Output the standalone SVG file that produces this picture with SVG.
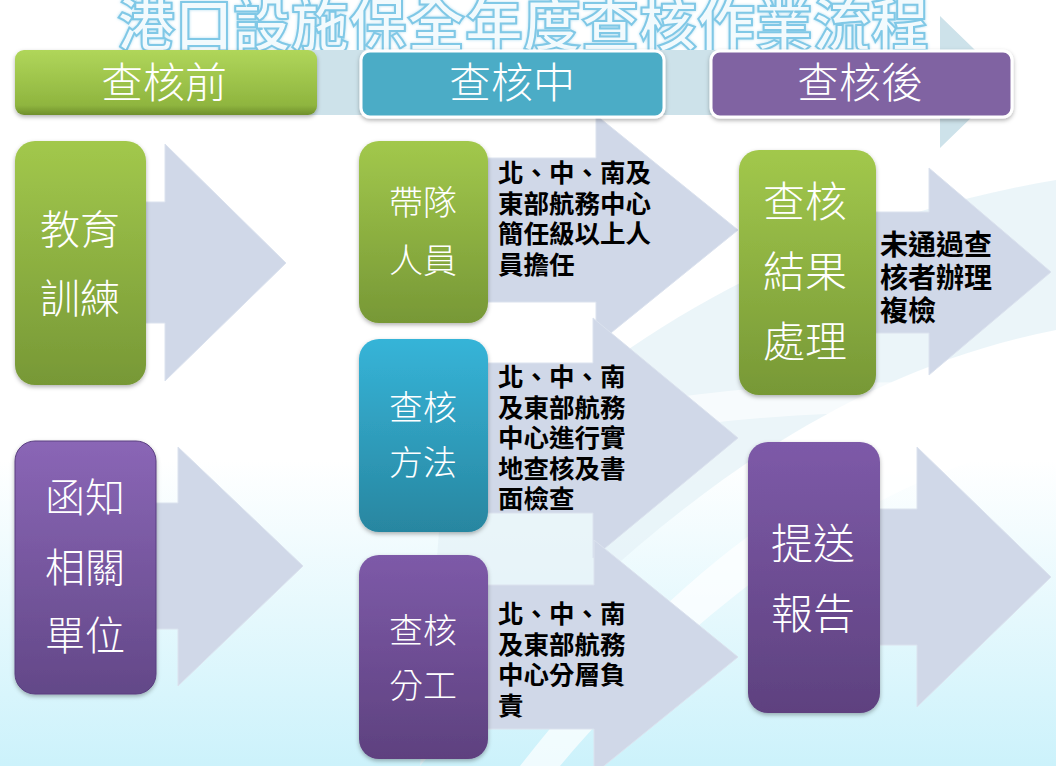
<svg xmlns="http://www.w3.org/2000/svg" width="1056" height="766" viewBox="0 0 1056 766">
  <defs>
    <linearGradient id="bg" x1="0" y1="0" x2="0" y2="1">
      <stop offset="0" stop-color="#ffffff"/>
      <stop offset="0.6" stop-color="#ffffff"/>
      <stop offset="1" stop-color="#ccf2fb"/>
    </linearGradient>
    <linearGradient id="gGreen" x1="0" y1="0" x2="0" y2="1">
      <stop offset="0" stop-color="#a2c84c"/>
      <stop offset="1" stop-color="#779836"/>
    </linearGradient>
    <linearGradient id="gGreenHdr" x1="0" y1="0" x2="0" y2="1">
      <stop offset="0" stop-color="#b0d65a"/>
      <stop offset="0.85" stop-color="#8fb53f"/>
      <stop offset="1" stop-color="#6f8f2c"/>
    </linearGradient>
    <linearGradient id="gTeal" x1="0" y1="0" x2="0" y2="1">
      <stop offset="0" stop-color="#36b4d8"/>
      <stop offset="1" stop-color="#2886a0"/>
    </linearGradient>
    <linearGradient id="gPurple" x1="0" y1="0" x2="0" y2="1">
      <stop offset="0" stop-color="#7d5aa8"/>
      <stop offset="1" stop-color="#5e417f"/>
    </linearGradient>
    <linearGradient id="gPurple2" x1="0" y1="0" x2="0" y2="1">
      <stop offset="0" stop-color="#8a66b6"/>
      <stop offset="1" stop-color="#634888"/>
    </linearGradient>
    <filter id="sh" x="-20%" y="-20%" width="140%" height="140%">
      <feDropShadow dx="0" dy="2" stdDeviation="2" flood-color="#000" flood-opacity="0.3"/>
    </filter>
    <filter id="glow" x="-10%" y="-30%" width="120%" height="160%">
      <feGaussianBlur in="SourceAlpha" stdDeviation="1.5" result="b"/>
      <feFlood flood-color="#9fd6ee" flood-opacity="0.8"/>
      <feComposite in2="b" operator="in" result="g"/>
      <feMerge><feMergeNode in="g"/><feMergeNode in="SourceGraphic"/></feMerge>
    </filter>
  </defs>
  <style>
    .arrow { fill: #d0d8e8; stroke: #dbe2ee; stroke-width: 1; }
    .harrow { fill: #cde2ea; }
    .lbl { font-family: "Noto Sans CJK TC", "Noto Sans CJK SC", sans-serif; font-weight: 300; fill: #ffffff; text-anchor: middle; }
    .hdr { font-family: "Noto Sans CJK TC", "Noto Sans CJK SC", sans-serif; font-weight: 300; fill: #ffffff; text-anchor: middle; font-size: 42px; }
    .desc { font-family: "Noto Sans CJK TC", "Noto Sans CJK SC", sans-serif; font-weight: bold; fill: #000000; font-size: 25.5px; }
    .desc2 { font-family: "Noto Sans CJK TC", "Noto Sans CJK SC", sans-serif; font-weight: bold; fill: #000000; font-size: 28px; }
    .title { font-family: "Noto Sans CJK TC", "Noto Sans CJK SC", sans-serif; font-weight: bold; font-size: 58px; fill: #f2fafd; stroke: #80c8e6; stroke-width: 2; text-anchor: middle; }
  </style>

  <!-- background -->
  <rect x="0" y="0" width="1056" height="766" fill="url(#bg)"/>
  <path d="M 420 766 C 600 560 800 380 1056 330 L 1056 180 C 820 220 600 330 440 520 Z" fill="#e6f2f7" opacity="0.8"/>
  <path d="M 560 766 C 700 600 880 470 1056 440 L 1056 400 C 860 430 680 560 520 766 Z" fill="#ffffff" opacity="0.7"/>
  <path d="M 470 470 C 640 420 860 400 1056 420 L 1056 390 C 860 370 640 390 470 440 Z" fill="#ffffff" opacity="0.6"/>

  <!-- title -->
  <text class="title" x="523" y="46" filter="url(#glow)">港口設施保全年度查核作業流程</text>

  <!-- connectors (block arrows) -->
  <g id="connectors">
    <polygon class="harrow" points="40,50 940,50 940,16 1008,82 940,148 940,115 40,115"/>
    <polygon class="arrow" points="100,202 165,202 165,144 286,263 165,381 165,323 100,323"/>
    <polygon class="arrow" points="100,503 178,503 178,447 303,566 178,686 178,629 100,629"/>
    <polygon class="arrow" points="450,158 596,158 596,115 738,230 596,345 596,302 450,302"/>
    <polygon class="arrow" points="450,363 593,363 593,318 738,438 593,558 593,513 450,513"/>
    <polygon class="arrow" points="450,585 594,585 594,540 738,657 594,774 594,729 450,729"/>
    <polygon class="arrow" points="840,212 929,212 929,168 1051,272 929,375 929,333 840,333"/>
    <polygon class="arrow" points="840,509 917,509 917,447 1051,577 917,707 917,645 840,645"/>
  </g>

  <!-- headers -->
  <g id="hdr-before">
    <rect x="15" y="50" width="302" height="65" rx="9" fill="url(#gGreenHdr)" filter="url(#sh)"/>
    <text class="hdr" x="164" y="98">查核前</text>
  </g>
  <g id="hdr-during">
    <rect x="361" y="51" width="303" height="66" rx="9" fill="#4bacc6" stroke="#ffffff" stroke-width="3" filter="url(#sh)"/>
    <text class="hdr" x="512" y="98">查核中</text>
  </g>
  <g id="hdr-after">
    <rect x="711" y="51" width="301" height="66" rx="9" fill="#8064a2" stroke="#ffffff" stroke-width="3" filter="url(#sh)"/>
    <text class="hdr" x="860" y="98">查核後</text>
  </g>

  <!-- column 1 -->
  <g id="node-training">
    <rect x="15" y="141" width="131" height="244" rx="20" fill="url(#gGreen)" filter="url(#sh)"/>
    <text class="lbl" x="80" y="244" font-size="40">教育</text>
    <text class="lbl" x="80" y="313" font-size="40">訓練</text>
  </g>
  <g id="node-notify">
    <rect x="15" y="441" width="141" height="253" rx="20" fill="url(#gPurple2)" stroke="#5a3f80" stroke-width="1" filter="url(#sh)"/>
    <text class="lbl" x="85" y="512" font-size="40">函知</text>
    <text class="lbl" x="85" y="582" font-size="40">相關</text>
    <text class="lbl" x="85" y="650" font-size="40">單位</text>
  </g>

  <!-- column 2 -->
  <g id="node-leader">
    <rect x="359" y="141" width="129" height="182" rx="20" fill="url(#gGreen)" filter="url(#sh)"/>
    <text class="lbl" x="423" y="215" font-size="34">帶隊</text>
    <text class="lbl" x="423" y="273" font-size="34">人員</text>
    <text class="desc" x="498" y="182">北、中、南及</text>
    <text class="desc" x="498" y="212.5">東部航務中心</text>
    <text class="desc" x="498" y="243">簡任級以上人</text>
    <text class="desc" x="498" y="273.5">員擔任</text>
  </g>
  <g id="node-method">
    <rect x="359" y="339" width="129" height="193" rx="20" fill="url(#gTeal)" filter="url(#sh)"/>
    <text class="lbl" x="423" y="420" font-size="34">查核</text>
    <text class="lbl" x="423" y="475" font-size="34">方法</text>
    <text class="desc" x="498" y="386">北、中、南</text>
    <text class="desc" x="498" y="416.5">及東部航務</text>
    <text class="desc" x="498" y="447">中心進行實</text>
    <text class="desc" x="498" y="477.5">地查核及書</text>
    <text class="desc" x="498" y="508">面檢查</text>
  </g>
  <g id="node-division">
    <rect x="359" y="555" width="129" height="204" rx="20" fill="url(#gPurple)" filter="url(#sh)"/>
    <text class="lbl" x="423" y="643" font-size="34">查核</text>
    <text class="lbl" x="423" y="698" font-size="34">分工</text>
    <text class="desc" x="498" y="623">北、中、南</text>
    <text class="desc" x="498" y="653.5">及東部航務</text>
    <text class="desc" x="498" y="684">中心分層負</text>
    <text class="desc" x="498" y="714.5">責</text>
  </g>

  <!-- column 3 -->
  <g id="node-result">
    <rect x="739" y="150" width="137" height="245" rx="20" fill="url(#gGreen)" filter="url(#sh)"/>
    <text class="lbl" x="805" y="217" font-size="42">查核</text>
    <text class="lbl" x="805" y="287" font-size="42">結果</text>
    <text class="lbl" x="805" y="357" font-size="42">處理</text>
    <text class="desc2" x="880" y="255">未通過查</text>
    <text class="desc2" x="880" y="288">核者辦理</text>
    <text class="desc2" x="880" y="321">複檢</text>
  </g>
  <g id="node-report">
    <rect x="748" y="442" width="132" height="271" rx="20" fill="url(#gPurple)" filter="url(#sh)"/>
    <text class="lbl" x="813" y="559" font-size="42">提送</text>
    <text class="lbl" x="813" y="629" font-size="42">報告</text>
  </g>
</svg>
